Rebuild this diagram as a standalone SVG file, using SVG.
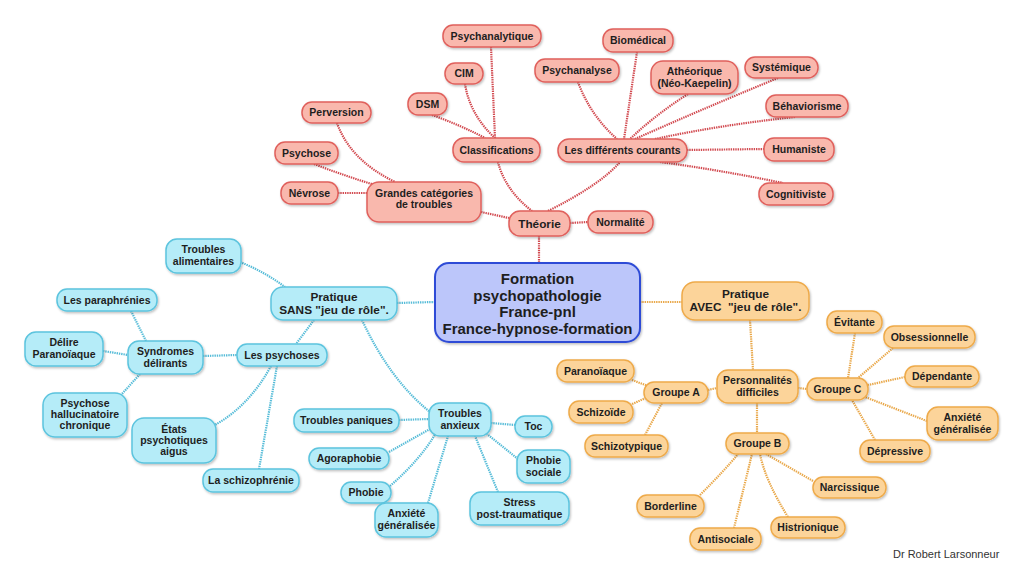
<svg xmlns="http://www.w3.org/2000/svg" width="1024" height="576" viewBox="0 0 1024 576">
<defs>
<filter id="sh" x="-10%" y="-20%" width="130%" height="150%"><feDropShadow dx="1" dy="1.5" stdDeviation="1" flood-color="#000" flood-opacity="0.25"/></filter>
<style>
.r{fill:#f9b8ad;stroke:#e0605c;stroke-width:1.5}
.c{fill:#b5ecf8;stroke:#5cc4de;stroke-width:1.5}
.o{fill:#fcd49a;stroke:#eeaa4a;stroke-width:1.5}
.m{fill:#bcc6fa;stroke:#2f4cd6;stroke-width:2}
rect{filter:url(#sh)}
text{font-family:"Liberation Sans",Arial,sans-serif;font-weight:bold;font-size:10.5px;fill:#1e1e1e;text-anchor:middle}
.t12{font-size:11.8px}
.t15{font-size:15px}
.lr path,.lc path,.lo path{fill:none;stroke-width:2.2;stroke-dasharray:1.4 0.9}
.lr path{stroke:#d24a50}
.lc path{stroke:#56bcd8}
.lo path{stroke:#e9a84a}
.sig{font-weight:normal;font-size:11px;fill:#333;text-anchor:start}
</style>
</defs>
<rect width="1024" height="576" fill="#fff" style="filter:none"/>
<g id="connectors">
<g class="lr">
<path d="M539,236 L539,263"/>
<path d="M570,223 L588,222"/>
<path d="M481,212 L509,218"/>
<path d="M498,162 Q505,190 532,211"/>
<path d="M548,211 Q600,185 620,162"/>
<path d="M338,193 L367,193"/>
<path d="M314,164 Q345,176 375,185"/>
<path d="M337,123 Q350,160 395,182"/>
<path d="M432,115 Q460,125 485,138"/>
<path d="M465,84 Q470,115 495,138"/>
<path d="M491,47 L495,138"/>
<path d="M578,82 Q590,115 617,139"/>
<path d="M637,52 L624,139"/>
<path d="M688,94 Q655,115 630,139"/>
<path d="M778,78 Q700,110 635,139"/>
<path d="M795,117 Q720,125 655,139"/>
<path d="M687,150 L764,149"/>
<path d="M660,162 Q720,170 783,183"/>
</g>
<g class="lc">
<path d="M397,303 L435,302"/>
<path d="M240,262 Q265,272 285,287"/>
<path d="M314,320 L296,344"/>
<path d="M362,320 Q390,380 430,412"/>
<path d="M203,356 L237,355"/>
<path d="M271,366 Q250,405 215,425"/>
<path d="M277,366 L259,469"/>
<path d="M131,311 L146,341"/>
<path d="M103,351 L128,355"/>
<path d="M140,374 L121,395"/>
<path d="M399,420 L429,419"/>
<path d="M491,423 L515,425"/>
<path d="M389,452 L430,429"/>
<path d="M390,486 Q420,460 436,433"/>
<path d="M428,503 L448,436"/>
<path d="M518,459 L487,434"/>
<path d="M498,492 L475,436"/>
</g>
<g class="lo">
<path d="M640,302 L682,302"/>
<path d="M750,320 L753,370"/>
<path d="M708,390 L717,388"/>
<path d="M798,388 L807,389"/>
<path d="M757,403 L757,433"/>
<path d="M632,380 L648,386"/>
<path d="M630,405 L648,397"/>
<path d="M645,435 L662,403"/>
<path d="M855,333 L848,378"/>
<path d="M893,348 L858,378"/>
<path d="M905,377 L868,385"/>
<path d="M927,421 L865,397"/>
<path d="M875,440 L852,400"/>
<path d="M813,481 L766,454"/>
<path d="M700,495 Q725,470 738,454"/>
<path d="M734,528 L752,454"/>
<path d="M788,517 Q765,480 760,454"/>
</g>
</g>

<g id="center"><rect class="m" x="435" y="263" width="205" height="79" rx="14"/>
<text class="t15" x="537.5" y="284">Formation</text><text class="t15" x="537.5" y="300.5">psychopathologie</text><text class="t15" x="537.5" y="317">France-pnl</text><text class="t15" x="537.5" y="333.5">France-hypnose-formation</text></g>

<g id="theorie"><rect class="r" x="509" y="211" width="61" height="25" rx="11"/><text class="t12" x="539.5" y="227.5">Théorie</text></g>
<g id="normalite"><rect class="r" x="588" y="211" width="65" height="22" rx="10"/><text x="620.5" y="225.5">Normalité</text></g>
<g id="grandes"><rect class="r" x="367" y="182" width="114" height="40" rx="12"/><text x="424" y="197">Grandes catégories</text><text x="424" y="208">de troubles</text></g>
<g id="nevrose"><rect class="r" x="281" y="182" width="57" height="22" rx="10"/><text x="309.5" y="196.5">Névrose</text></g>
<g id="psychose"><rect class="r" x="275" y="142" width="63" height="22" rx="10"/><text x="306.5" y="156.5">Psychose</text></g>
<g id="perversion"><rect class="r" x="302" y="102" width="69" height="21" rx="10"/><text x="336.5" y="116">Perversion</text></g>
<g id="classifications"><rect class="r" x="453" y="138" width="87" height="24" rx="11"/><text x="496.5" y="153.5">Classifications</text></g>
<g id="dsm"><rect class="r" x="408" y="93" width="39" height="22" rx="10"/><text x="427.5" y="107.5">DSM</text></g>
<g id="cim"><rect class="r" x="445" y="63" width="38" height="21" rx="10"/><text x="464" y="77">CIM</text></g>
<g id="psychanalytique"><rect class="r" x="443" y="25" width="98" height="22" rx="10"/><text x="492" y="39.5">Psychanalytique</text></g>
<g id="courants"><rect class="r" x="558" y="139" width="129" height="23" rx="11"/><text x="622.5" y="154">Les différents courants</text></g>
<g id="psychanalyse"><rect class="r" x="535" y="59" width="84" height="23" rx="10"/><text x="577" y="74">Psychanalyse</text></g>
<g id="biomedical"><rect class="r" x="603" y="29" width="70" height="23" rx="10"/><text x="638" y="44">Biomédical</text></g>
<g id="atheorique"><rect class="r" x="651" y="61" width="87" height="33" rx="12"/><text x="694.5" y="75">Athéorique</text><text x="694.5" y="86.5">(Néo-Kaepelin)</text></g>
<g id="systemique"><rect class="r" x="745" y="57" width="73" height="21" rx="10"/><text x="781.5" y="71">Systémique</text></g>
<g id="behaviorisme"><rect class="r" x="766" y="95" width="82" height="22" rx="10"/><text x="807" y="109.5">Béhaviorisme</text></g>
<g id="humaniste"><rect class="r" x="764" y="138" width="70" height="23" rx="10"/><text x="799" y="153">Humaniste</text></g>
<g id="cognitiviste"><rect class="r" x="759" y="183" width="74" height="22" rx="10"/><text x="796" y="197.5">Cognitiviste</text></g>

<g id="sans"><rect class="c" x="271" y="287" width="126" height="33" rx="12"/><text class="t12" x="334" y="301">Pratique</text><text class="t12" x="334" y="314">SANS "jeu de rôle".</text></g>
<g id="alimentaires"><rect class="c" x="166" y="239" width="75" height="34" rx="11"/><text x="203.5" y="253">Troubles</text><text x="203.5" y="265">alimentaires</text></g>
<g id="psychoses"><rect class="c" x="237" y="344" width="90" height="22" rx="10"/><text x="282" y="358.5">Les psychoses</text></g>
<g id="syndromes"><rect class="c" x="128" y="341" width="75" height="33" rx="11"/><text x="165.5" y="355">Syndromes</text><text x="165.5" y="366.5">délirants</text></g>
<g id="paraphrenies"><rect class="c" x="57" y="289" width="100" height="22" rx="10"/><text x="107" y="303.5">Les paraphrénies</text></g>
<g id="delire"><rect class="c" x="25" y="332" width="78" height="34" rx="11"/><text x="64" y="346">Délire</text><text x="64" y="357.5">Paranoïaque</text></g>
<g id="hallucinatoire"><rect class="c" x="43" y="393" width="84" height="44" rx="12"/><text x="85" y="407">Psychose</text><text x="85" y="418">hallucinatoire</text><text x="85" y="429">chronique</text></g>
<g id="etats"><rect class="c" x="132" y="418" width="84" height="45" rx="12"/><text x="174" y="433">États</text><text x="174" y="444">psychotiques</text><text x="174" y="455">aigus</text></g>
<g id="schizophrenie"><rect class="c" x="203" y="469" width="96" height="23" rx="10"/><text x="251" y="484">La schizophrénie</text></g>
<g id="anxieux"><rect class="c" x="429" y="403" width="62" height="33" rx="11"/><text x="460" y="417">Troubles</text><text x="460" y="428.5">anxieux</text></g>
<g id="paniques"><rect class="c" x="294" y="409" width="105" height="23" rx="10"/><text x="346.5" y="424">Troubles paniques</text></g>
<g id="toc"><rect class="c" x="515" y="416" width="37" height="21" rx="10"/><text x="533.5" y="430">Toc</text></g>
<g id="agoraphobie"><rect class="c" x="309" y="448" width="80" height="21" rx="10"/><text x="349" y="462">Agoraphobie</text></g>
<g id="phobie-sociale"><rect class="c" x="517" y="450" width="53" height="33" rx="11"/><text x="543.5" y="464">Phobie</text><text x="543.5" y="475.5">sociale</text></g>
<g id="phobie"><rect class="c" x="341" y="482" width="50" height="21" rx="10"/><text x="366" y="496">Phobie</text></g>
<g id="anxiete-c"><rect class="c" x="375" y="503" width="63" height="34" rx="11"/><text x="406.5" y="517">Anxiété</text><text x="406.5" y="529">généralisée</text></g>
<g id="stress"><rect class="c" x="470" y="492" width="99" height="33" rx="11"/><text x="519.5" y="506">Stress</text><text x="519.5" y="517.5">post-traumatique</text></g>

<g id="avec"><rect class="o" x="682" y="282" width="127" height="38" rx="13"/><text class="t12" x="745.5" y="298">Pratique</text><text class="t12" x="745.5" y="311">AVEC&#160; "jeu de rôle".</text></g>
<g id="personnalites"><rect class="o" x="717" y="370" width="81" height="33" rx="11"/><text x="757.5" y="384">Personnalités</text><text x="757.5" y="395.5">difficiles</text></g>
<g id="groupe-a"><rect class="o" x="644" y="382" width="64" height="21" rx="10"/><text x="676" y="396">Groupe A</text></g>
<g id="paranoiaque"><rect class="o" x="557" y="360" width="77" height="22" rx="10"/><text x="595.5" y="374.5">Paranoïaque</text></g>
<g id="schizoide"><rect class="o" x="569" y="401" width="64" height="22" rx="10"/><text x="601" y="415.5">Schizoïde</text></g>
<g id="schizotypique"><rect class="o" x="585" y="435" width="83" height="22" rx="10"/><text x="626.5" y="449.5">Schizotypique</text></g>
<g id="groupe-c"><rect class="o" x="807" y="378" width="61" height="22" rx="10"/><text x="837.5" y="392.5">Groupe C</text></g>
<g id="evitante"><rect class="o" x="827" y="311" width="55" height="22" rx="10"/><text x="854.5" y="325.5">Évitante</text></g>
<g id="obsessionnelle"><rect class="o" x="884" y="326" width="91" height="22" rx="10"/><text x="929.5" y="340.5">Obsessionnelle</text></g>
<g id="dependante"><rect class="o" x="905" y="366" width="74" height="21" rx="10"/><text x="942" y="380">Dépendante</text></g>
<g id="anxiete-o"><rect class="o" x="927" y="407" width="71" height="33" rx="11"/><text x="962.5" y="421">Anxiété</text><text x="962.5" y="432.5">généralisée</text></g>
<g id="depressive"><rect class="o" x="860" y="440" width="70" height="22" rx="10"/><text x="895" y="454.5">Dépressive</text></g>
<g id="groupe-b"><rect class="o" x="726" y="433" width="63" height="21" rx="10"/><text x="757.5" y="447">Groupe B</text></g>
<g id="narcissique"><rect class="o" x="813" y="477" width="73" height="21" rx="10"/><text x="849.5" y="491">Narcissique</text></g>
<g id="borderline"><rect class="o" x="637" y="495" width="67" height="22" rx="10"/><text x="670.5" y="509.5">Borderline</text></g>
<g id="histrionique"><rect class="o" x="771" y="517" width="74" height="21" rx="10"/><text x="808" y="531">Histrionique</text></g>
<g id="antisociale"><rect class="o" x="690" y="528" width="71" height="22" rx="10"/><text x="725.5" y="542.5">Antisociale</text></g>

<text class="sig" x="893" y="558">Dr Robert Larsonneur</text>
</svg>
